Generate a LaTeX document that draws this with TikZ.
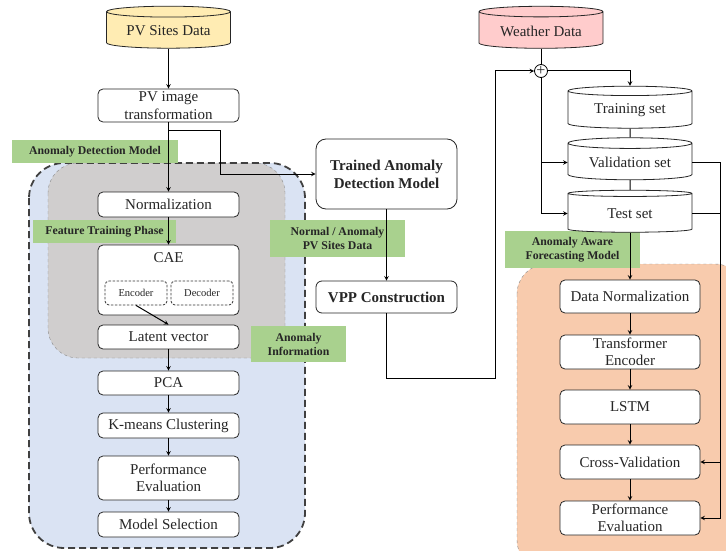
\documentclass[tikz,border=0pt]{standalone}
\usepackage{fontspec}
\setmainfont{Liberation Serif}
\usepackage{tikz}
\usetikzlibrary{shapes.geometric,calc}

\definecolor{pvYellow}{RGB}{255,236,179}
\definecolor{wxPink}{RGB}{255,204,204}
\definecolor{tagGreen}{RGB}{169,209,142}
\definecolor{bgBlue}{RGB}{218,227,243}
\definecolor{bgGray}{RGB}{208,206,206}
\definecolor{bgOrange}{RGB}{248,203,173}

\begin{document}
\begin{tikzpicture}[>=stealth, x=1pt, y=-1pt,
  every node/.style={font=\fontsize{15}{17.5}\selectfont, text=black!85},
  box/.style={draw=black!85, line width=0.8pt, rounded corners=5pt, fill=white,
    minimum width=141pt, align=center, inner sep=1pt},
  dbase/.style={cylinder, shape border rotate=90, aspect=0.12, draw=black!85,
    line width=0.8pt, minimum width=124pt, minimum height=42pt},
  part/.style={draw=black!80, line width=0.8pt, dash pattern=on 2.5pt off 1.5pt,
    rounded corners=4pt, minimum width=62pt, minimum height=24pt,
    font=\fontsize{10.5}{12}\selectfont},
  tag/.style={fill=tagGreen, inner sep=0pt, align=center,
    font=\fontsize{11.8}{14}\selectfont\bfseries},
  flow/.style={->, line width=1pt}
  ]
  \useasboundingbox (0,0) rectangle (726,551);

  \fill[bgBlue, rounded corners=35pt] (29,163) rectangle (305,548);
  \draw[dashed, draw=black!45, fill=bgGray, rounded corners=30pt] (48,163) rectangle (285,358);
  \draw[line width=1.8pt, dash pattern=on 7pt off 4pt, draw=black!75, rounded corners=35pt]
    (29,163) rectangle (305,548);
  \draw[dashed, draw=black!45, fill=bgOrange, rounded corners=30pt] (517,264) rectangle (745,570);

  \node[tag, minimum width=166pt, minimum height=23pt] (tagdetect) at (95,151.5) {Anomaly Detection Model};
  \node[tag, minimum width=143pt, minimum height=23pt] (tagfeature) at (104.5,231.5) {Feature Training Phase};
  \node[tag, minimum width=135pt, minimum height=37pt] (tagsites) at (337.5,238.5) {Normal / Anomaly\\PV Sites Data};
  \node[tag, minimum width=95pt, minimum height=36pt] (taginfo) at (298.5,344) {Anomaly\\Information};
  \node[tag, minimum width=135pt, minimum height=37pt] (tagforecast) at (572.5,249.5) {Anomaly Aware\\Forecasting Model};

  \node[dbase, fill=pvYellow] (pvdata) at (168.5,31) {PV Sites Data};
  \node[box, minimum height=33pt] (pvimg) at (168.5,105.5) {PV image\\transformation};
  \node[box, minimum height=25pt] (norm) at (168.5,204.5) {Normalization};
  \node[box, minimum height=70pt] (cae) at (168.5,280) {};
  \node[anchor=north] (caename) at ([yshift=-4pt]cae.north) {CAE};
  \node[part] (enc) at (136,293) {Encoder};
  \node[part] (dec) at (202,293) {Decoder};
  \node[box, minimum height=24pt] (latent) at (168.5,337) {Latent vector};
  \node[box, minimum height=24pt] (pca) at (168.5,383) {PCA};
  \node[box, minimum height=25pt] (kmeans) at (168.5,425.5) {K-means Clustering};
  \node[box, minimum height=44pt] (perf) at (168.5,478) {Performance\\Evaluation};
  \node[box, minimum height=25pt] (select) at (168.5,524.5) {Model Selection};

  \node[box, rounded corners=10pt, minimum height=70pt,
    font=\fontsize{15}{18}\selectfont\bfseries] (trained) at (386.5,174) {Trained Anomaly\\Detection Model};
  \node[box, rounded corners=6pt, minimum height=32pt,
    font=\fontsize{15}{18}\selectfont\bfseries] (vpp) at (386.5,297) {VPP Construction};

  \node[dbase, fill=wxPink] (weather) at (541,31) {Weather Data};
  \node[draw, line width=0.8pt, circle, fill=white, inner sep=0pt, minimum size=13pt,
    font=\fontsize{16}{16}\selectfont] (join) at (541,71) {+};
  \node[dbase, fill=white] (train) at (630,110.5) {Training set};
  \node[dbase, fill=white] (valid) at (630,162.5) {Validation set};
  \node[dbase, fill=white] (test) at (630,213.5) {Test set};
  \node[box, minimum width=140pt, minimum height=33pt] (dnorm) at (630,296.5) {Data Normalization};
  \node[box, minimum width=140pt, minimum height=34pt] (trans) at (630,352) {Transformer\\Encoder};
  \node[box, minimum width=140pt, minimum height=34pt] (lstm) at (630,407) {LSTM};
  \node[box, minimum width=140pt, minimum height=34pt] (cross) at (630,462) {Cross-Validation};
  \node[box, minimum width=140pt, minimum height=34pt] (perf2) at (630,518) {Performance\\Evaluation};

  \coordinate (split) at (220,130);
  \coordinate (loop) at (495,378);
  \coordinate (rail) at (720,0);

  \draw[flow] (pvdata.south) -- (pvimg.north);
  \draw[flow] (pvimg.south) -- (norm.north);
  \draw[flow] (pvimg.south |- split) -- (split) |- (trained.west);
  \draw[flow] (norm) -- (cae);
  \draw[flow] (enc.south) -- (latent.north);
  \draw[flow] (latent) -- (pca);
  \draw[flow] (pca) -- (kmeans);
  \draw[flow] (kmeans) -- (perf);
  \draw[flow] (perf) -- (select);

  \draw[flow] (trained) -- (vpp);
  \draw[flow] (vpp.south) |- (loop) |- (join.west);

  \draw[line width=1pt] (weather.south) -- (join.north);
  \draw[flow] (join.east) -| (train.north);
  \draw[line width=1pt] (train.south) -- (valid.north);
  \draw[line width=1pt] (valid.south) -- (test.north);
  \draw[flow] (join.south) |- (test.west);
  \draw[flow] (join.south |- valid.west) -- (valid.west);
  \draw[flow] (valid.east) -| (rail |- cross.east) -- (cross.east);
  \draw[flow] (test.east) -| (rail |- perf2.east) -- (perf2.east);

  \draw[flow] (test.south) -- (dnorm.north);
  \draw[flow] (dnorm) -- (trans);
  \draw[flow] (trans) -- (lstm);
  \draw[flow] (lstm) -- (cross);
  \draw[flow] (cross) -- (perf2);
\end{tikzpicture}
\end{document}
